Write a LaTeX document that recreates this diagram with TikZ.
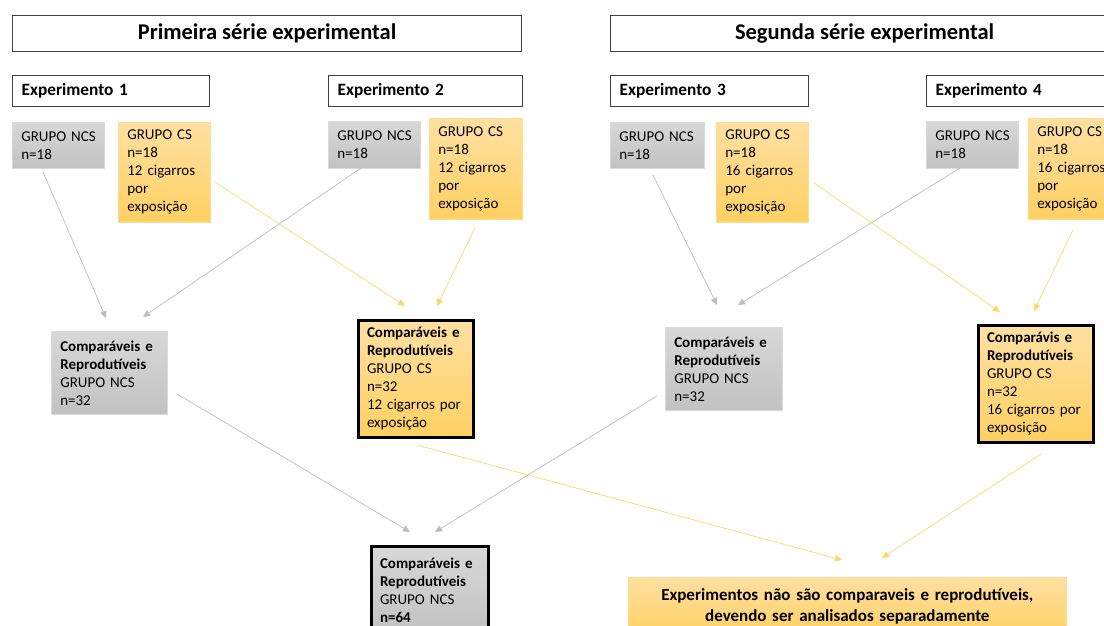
\documentclass[tikz,border=0pt]{standalone}
\usepackage{fontspec}
\setmainfont{Carlito}
\usetikzlibrary{arrows.meta}
\definecolor{tbord}{HTML}{404040}
\definecolor{gtop}{HTML}{D8D8D8}
\definecolor{gbot}{HTML}{C2C2C2}
\definecolor{gedge}{HTML}{DADADA}
\definecolor{otop}{HTML}{FFE0A2}
\definecolor{obot}{HTML}{FFD062}
\definecolor{oedge}{HTML}{FFDC8C}
\definecolor{gline}{HTML}{BDBDBD}
\definecolor{oline}{HTML}{FFD665}
\tikzset{
  basebox/.style={anchor=north west, inner xsep=9pt, inner ysep=0pt, align=left,
    font=\fontsize{15}{18}\selectfont},
  titlebox/.style={anchor=north west, draw=tbord, line width=1.3pt, fill=white,
    font=\bfseries\fontsize{22.5}{26}\selectfont, align=center, inner sep=0pt},
  headbox/.style={basebox, draw=tbord, line width=1.3pt, fill=white,
    font=\bfseries\fontsize{17.3}{20}\selectfont},
  graybox/.style={basebox, draw=gedge, line width=0.6pt, top color=gtop, bottom color=gbot},
  orangebox/.style={basebox, draw=oedge, line width=0.6pt, top color=otop, bottom color=obot},
  strongbox/.style={draw=black, line width=3pt},
  garrow/.style={draw=gline, line width=0.7pt, -{Triangle[length=7pt,width=6.5pt]}},
  oarrow/.style={draw=oline, line width=0.7pt, -{Triangle[length=7pt,width=6.5pt]}},
}
\begin{document}
\begin{tikzpicture}[x=1pt,y=-1pt]
\useasboundingbox (0,0) rectangle (1104,626);
\clip (0,0) rectangle (1104,626);

% titles
\node[titlebox, minimum width=509pt, minimum height=36pt] (t1) at (12,15) {Primeira série experimental};
\node[titlebox, minimum width=508pt, minimum height=36pt] (t2) at (610,15) {Segunda série experimental};

% experiment headings
\node[headbox, minimum width=197pt, text width=179pt, minimum height=31pt] (e1) at (12,75) {Experimento~1};
\node[headbox, minimum width=194pt, text width=176pt, minimum height=31pt] (e2) at (328,75) {Experimento~2};
\node[headbox, minimum width=198pt, text width=180pt, minimum height=31pt] (e3) at (610,75) {Experimento~3};
\node[headbox, minimum width=196pt, text width=178pt, minimum height=31pt] (e4) at (926,75) {Experimento~4};

% groups
\node[graybox, minimum width=92pt, text width=74pt, minimum height=46pt] (ncs1) at (12,122) {GRUPO~NCS\\n=18};
\node[orangebox, minimum width=92pt, text width=74pt, minimum height=100pt] (cs1) at (118,122) {GRUPO~CS\\n=18\\12~cigarros\\por\\exposição};
\node[graybox, minimum width=92pt, text width=74pt, minimum height=47pt] (ncs2) at (328,121) {GRUPO~NCS\\n=18};
\node[orangebox, minimum width=93pt, text width=75pt, minimum height=101pt] (cs2) at (429,118) {GRUPO~CS\\n=18\\12~cigarros\\por\\exposição};
\node[graybox, minimum width=94pt, text width=76pt, minimum height=46pt] (ncs3) at (610,122) {GRUPO~NCS\\n=18};
\node[orangebox, minimum width=92pt, text width=74pt, minimum height=100pt] (cs3) at (716,122) {GRUPO~CS\\n=18\\16~cigarros\\por\\exposição};
\node[graybox, minimum width=92pt, text width=74pt, minimum height=47pt] (ncs4) at (926,121) {GRUPO~NCS\\n=18};
\node[orangebox, minimum width=93pt, text width=75pt, minimum height=101pt] (cs4) at (1028,118) {GRUPO~CS\\n=18\\16~cigarros\\por\\exposição};

% combined
\node[graybox, minimum width=116pt, text width=98pt, minimum height=83pt] (cn1) at (51,331) {\textbf{Comparáveis~e}\\\textbf{Reprodutíveis}\\GRUPO~NCS\\n=32};
\node[orangebox, strongbox, minimum width=115pt, text width=97pt, minimum height=117pt] (cc1) at (356.5,318.5) {\textbf{Comparáveis~e}\\\textbf{Reprodutíveis}\\GRUPO~CS\\n=32\\12~cigarros~por\\exposição};
\node[graybox, minimum width=117pt, text width=99pt, minimum height=83pt] (cn2) at (665,327) {\textbf{Comparáveis~e}\\\textbf{Reprodutíveis}\\GRUPO~NCS\\n=32};
\node[orangebox, strongbox, minimum width=115pt, text width=97pt, minimum height=117pt] (cc2) at (976.5,323.5) {\textbf{Comparávis~e}\\\textbf{Reprodutíveis}\\GRUPO~CS\\n=32\\16~cigarros~por\\exposição};

% finals
\node[graybox, strongbox, minimum width=117pt, text width=99pt, minimum height=88pt] (fin) at (369.5,544.5) {\textbf{Comparáveis~e}\\\textbf{Reprodutíveis}\\GRUPO~NCS\\\textbf{n=64}};
\node[orangebox, anchor=north west, align=center, text width=420pt, minimum width=438pt, minimum height=58pt,
  font=\bfseries\fontsize{17}{20.5}\selectfont] (sep) at (628,577) {Experimentos~não~são~comparaveis~e~reprodutíveis,\\devendo~ser~analisados~separadamente};

% connector end points
\coordinate (a1) at (43,172);   \coordinate (a1e) at (106,318);
\coordinate (a2) at (361,168);  \coordinate (a2e) at (143,317);
\coordinate (a3) at (215,182);  \coordinate (a3e) at (405,306);
\coordinate (a4) at (475,228);  \coordinate (a4e) at (437,306);
\coordinate (b1) at (653,175);  \coordinate (b1e) at (717,305);
\coordinate (b2) at (960,168);  \coordinate (b2e) at (738,305);
\coordinate (b3) at (814,183);  \coordinate (b3e) at (1000,312);
\coordinate (b4) at (1073,230); \coordinate (b4e) at (1034,311);
\coordinate (c1) at (177,394);  \coordinate (c1e) at (410,532);
\coordinate (c2) at (657,396);  \coordinate (c2e) at (435,532);
\coordinate (c3) at (417,445);  \coordinate (c3e) at (842,560);
\coordinate (c4) at (1041,454); \coordinate (c4e) at (882,558);

\draw[garrow] (a1) -- (a1e);
\draw[garrow] (a2) -- (a2e);
\draw[oarrow] (a3) -- (a3e);
\draw[oarrow] (a4) -- (a4e);
\draw[garrow] (b1) -- (b1e);
\draw[garrow] (b2) -- (b2e);
\draw[oarrow] (b3) -- (b3e);
\draw[oarrow] (b4) -- (b4e);
\draw[garrow] (c1) -- (c1e);
\draw[garrow] (c2) -- (c2e);
\draw[oarrow] (c3) -- (c3e);
\draw[oarrow] (c4) -- (c4e);
\end{tikzpicture}
\end{document}
